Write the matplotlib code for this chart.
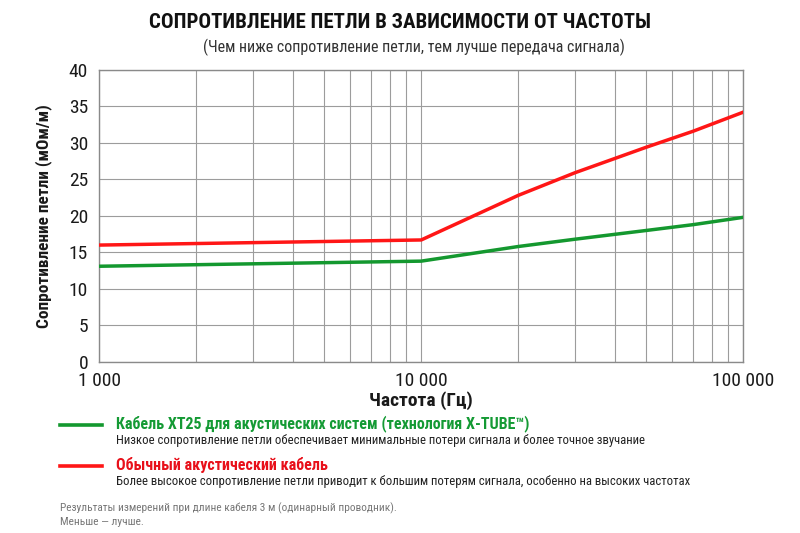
import matplotlib
matplotlib.use("Agg")
import matplotlib.pyplot as plt
from matplotlib.ticker import FixedLocator, FuncFormatter, NullFormatter

plt.rcParams['font.family'] = ['Roboto Condensed', 'PT Sans Narrow', 'Fira Sans Condensed',
                               'Open Sans Condensed', 'DejaVu Sans']

# data
freq = [1000, 10000, 20000, 30000, 50000, 70000, 100000]
xt25 = [13.1, 13.8, 15.8, 16.8, 18.0, 18.8, 19.8]
regular = [16.0, 16.7, 22.8, 25.9, 29.4, 31.6, 34.2]

title = "СОПРОТИВЛЕНИЕ ПЕТЛИ В ЗАВИСИМОСТИ ОТ ЧАСТОТЫ"
subtitle = "(Чем ниже сопротивление петли, тем лучше передача сигнала)"
ylabel = "Сопротивление петли (мОм/м)"
xlabel = "Частота (Гц)"
leg_names = ["Кабель XT25 для акустических систем (технология X-TUBE™)",
             "Обычный акустический кабель"]
leg_desc = ["Низкое сопротивление петли обеспечивает минимальные потери сигнала и более точное звучание",
            "Более высокое сопротивление петли приводит к большим потерям сигнала, особенно на высоких частотах"]
notes = ["Результаты измерений при длине кабеля 3 м (одинарный проводник).",
         "Меньше — лучше."]

GREEN = '#14982f'
RED = '#ff1616'
GREEN_TXT = '#149a34'
RED_TXT = '#e8101a'
GRID = '#9c9c9c'

fig = plt.figure(figsize=(8, 5.33), dpi=100)
ax = fig.add_axes([0.124, 0.321, 0.805, 0.548])

ax.plot(freq, regular, color=RED, lw=2.5, solid_joinstyle='miter', zorder=3)
ax.plot(freq, xt25, color=GREEN, lw=2.5, solid_joinstyle='miter', zorder=3)

ax.set_xscale('log')
ax.set_xlim(1000, 100000)
ax.set_ylim(0, 40)
ax.set_yticks(range(0, 41, 5))
ax.xaxis.set_major_locator(FixedLocator([1000, 10000, 100000]))
ax.xaxis.set_major_formatter(FuncFormatter(lambda v, p: f"{int(v):,}".replace(",", " ")))
ax.xaxis.set_minor_formatter(NullFormatter())
ax.grid(True, which='both', axis='x', color=GRID, lw=0.8)
ax.grid(True, which='major', axis='y', color=GRID, lw=0.8)
ax.tick_params(which='both', length=0)
ax.tick_params(axis='y', pad=8, labelsize=14, colors='#1a1a1a')
ax.tick_params(axis='x', pad=7, labelsize=14, colors='#1a1a1a')
for lbl in ax.get_yticklabels():
    lbl.set_va('center_baseline')
for s in ax.spines.values():
    s.set_color('#8a8a8a')
    s.set_linewidth(1.0)

ax.set_ylabel(ylabel, fontsize=12.5, fontweight='bold', color='#1a1a1a', labelpad=12)
ax.set_xlabel(xlabel, fontsize=14, fontweight='bold', color='#1a1a1a', labelpad=1)

fig.text(0.5, 0.957, title, ha='center', va='center', fontsize=15, fontweight='bold', color='#111111')
fig.text(0.518, 0.911, subtitle, ha='center', va='center', fontsize=11.5, color='#333333')

# legend block
for i, (c, tc) in enumerate([(GREEN, GREEN_TXT), (RED, RED_TXT)]):
    y = 1 - (425 + i * 41) / 533
    fig.add_artist(plt.Line2D([0.075, 0.127], [y, y], color=c, lw=2.6))
    fig.text(0.145, y + 0.002, leg_names[i], ha='left', va='center', fontsize=11.5,
             fontweight='bold', color=tc)
    fig.text(0.145, y - 0.029, leg_desc[i], ha='left', va='center', fontsize=9.2, color='#222222')

fig.text(0.075, 1 - 508 / 533, notes[0], ha='left', va='center', fontsize=8.2, color='#777777')
fig.text(0.075, 1 - 522 / 533, notes[1], ha='left', va='center', fontsize=8.2, color='#777777')

fig.savefig('out.png', dpi=100, facecolor='white')
